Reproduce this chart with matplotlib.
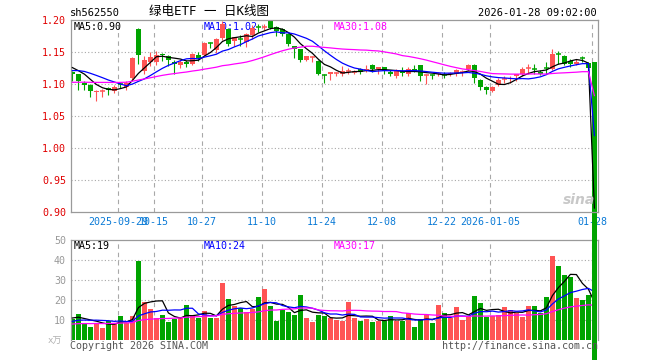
import matplotlib
matplotlib.use("Agg")
import matplotlib.pyplot as plt
import numpy as np
from matplotlib.patches import Rectangle, Ellipse

plt.rcParams['font.family'] = ['DejaVu Sans Mono', 'Noto Sans CJK SC']

# ---------------- data ----------------
tick_index = [8, 14, 22, 32, 42, 52, 62, 70, 87]
tick_labels = ["2025-09-29", "10-15", "10-27", "11-10", "11-24",
               "12-08", "12-22", "2026-01-05", "01-28"]

opens = [1.119, 1.115, 1.102, 1.099, 1.087, 1.089, 1.094, 1.089, 1.100, 1.096,
         1.109, 1.186, 1.120, 1.135, 1.135, 1.147, 1.143, 1.135, 1.130, 1.135,
         1.131, 1.146, 1.146, 1.164, 1.153, 1.172, 1.186, 1.167, 1.171, 1.165,
         1.176, 1.190, 1.189, 1.198, 1.189, 1.186, 1.178, 1.159, 1.154, 1.137,
         1.141, 1.136, 1.115, 1.115, 1.116, 1.116, 1.120, 1.119, 1.124, 1.122,
         1.130, 1.123, 1.126, 1.119, 1.112, 1.120, 1.115, 1.124, 1.129, 1.113,
         1.114, 1.115, 1.115, 1.115, 1.116, 1.118, 1.123, 1.130, 1.107, 1.096,
         1.089, 1.098, 1.107, 1.108, 1.112, 1.115, 1.124, 1.124, 1.119, 1.125,
         1.124, 1.147, 1.144, 1.136, 1.131, 1.141, 1.133, 1.135]
highs = [1.121, 1.116, 1.104, 1.100, 1.091, 1.092, 1.096, 1.099, 1.102, 1.104,
         1.142, 1.187, 1.143, 1.150, 1.152, 1.149, 1.146, 1.137, 1.137, 1.137,
         1.149, 1.150, 1.166, 1.166, 1.172, 1.199, 1.188, 1.174, 1.176, 1.180,
         1.192, 1.193, 1.194, 1.200, 1.190, 1.188, 1.179, 1.160, 1.155, 1.144,
         1.144, 1.137, 1.116, 1.119, 1.119, 1.128, 1.125, 1.122, 1.125, 1.130,
         1.131, 1.126, 1.127, 1.122, 1.123, 1.126, 1.126, 1.130, 1.130, 1.115,
         1.116, 1.119, 1.118, 1.119, 1.123, 1.122, 1.131, 1.131, 1.108, 1.097,
         1.097, 1.109, 1.112, 1.112, 1.114, 1.126, 1.132, 1.131, 1.122, 1.135,
         1.154, 1.152, 1.145, 1.139, 1.139, 1.143, 1.135, 1.135]
lows = [1.105, 1.091, 1.090, 1.080, 1.074, 1.080, 1.083, 1.086, 1.093, 1.091,
        1.107, 1.132, 1.116, 1.128, 1.130, 1.136, 1.128, 1.116, 1.125, 1.127,
        1.129, 1.136, 1.144, 1.157, 1.149, 1.168, 1.160, 1.160, 1.160, 1.158,
        1.170, 1.182, 1.184, 1.186, 1.175, 1.175, 1.160, 1.141, 1.135, 1.136,
        1.134, 1.114, 1.102, 1.107, 1.112, 1.112, 1.115, 1.115, 1.116, 1.118,
        1.118, 1.115, 1.116, 1.112, 1.110, 1.112, 1.112, 1.119, 1.104, 1.100,
        1.108, 1.112, 1.110, 1.112, 1.112, 1.112, 1.121, 1.102, 1.090, 1.085,
        1.087, 1.097, 1.101, 1.101, 1.105, 1.112, 1.115, 1.115, 1.114, 1.116,
        1.122, 1.132, 1.129, 1.127, 1.130, 1.135, 1.114, 0.0]
closes = [1.115, 1.104, 1.099, 1.089, 1.089, 1.090, 1.091, 1.095, 1.099, 1.102,
          1.141, 1.146, 1.138, 1.142, 1.146, 1.145, 1.137, 1.132, 1.135, 1.131,
          1.147, 1.141, 1.164, 1.163, 1.170, 1.194, 1.162, 1.173, 1.170, 1.178,
          1.188, 1.189, 1.190, 1.188, 1.183, 1.178, 1.163, 1.154, 1.137, 1.144,
          1.142, 1.116, 1.114, 1.118, 1.117, 1.121, 1.121, 1.120, 1.119, 1.124,
          1.123, 1.126, 1.120, 1.116, 1.120, 1.117, 1.124, 1.121, 1.113, 1.114,
          1.113, 1.117, 1.114, 1.117, 1.122, 1.119, 1.130, 1.110, 1.096, 1.090,
          1.096, 1.106, 1.108, 1.110, 1.116, 1.123, 1.125, 1.123, 1.115, 1.124,
          1.147, 1.146, 1.132, 1.131, 1.135, 1.140, 1.125, 0.0]
volumes = [10.3, 13, 8.7, 6.5, 8.5, 6.1, 9.7, 8.7, 12, 8.7,
           12, 39.6, 19.2, 15.6, 11.1, 12.5, 9.2, 10.4, 11.7, 17.5,
           12, 11.2, 14.7, 11.2, 11.2, 28.7, 20.7, 17, 15.8, 14,
           15.7, 21.7, 25.7, 17, 9.7, 15, 14.2, 12.5, 22.5, 11.2,
           9.2, 12.5, 12, 11, 10, 9.7, 19, 11, 9.7, 10.5,
           9.2, 9.7, 9.5, 12, 9.7, 9.7, 13.3, 6.7, 10.3, 12.5,
           8.7, 17.5, 13.7, 10.8, 16.5, 10, 11.7, 22, 18.7, 11.7,
           12, 12.5, 16.5, 15, 13.7, 11.5, 17, 17, 13.7, 21.3,
           42, 37, 32.5, 31.3, 20.8, 20, 22.5, 0.5]
# history before the first visible day (needed by the moving averages)
prior_close = [1.100, 1.098, 1.095, 1.092, 1.090, 1.092, 1.095, 1.097,
               1.095, 1.093, 1.090, 1.088, 1.086, 1.088, 1.090, 1.092,
               1.094, 1.096, 1.098, 1.100,
               1.105, 1.112, 1.118, 1.122, 1.125, 1.128, 1.126, 1.130, 1.129]
prior_volume = [7, 8, 7, 6.5, 7.5, 8, 7, 7.5, 6.5, 7,
                8, 7.5, 7, 7, 8, 7.5, 7, 7, 8, 7.5,
                7, 8, 7.5, 8, 7.5,
                11, 12, 10, 11.7]

ma_labels_price = ["MA5:0.90", "MA10:1.02", "MA30:1.08"]
ma_labels_vol = ["MA5:19", "MA10:24", "MA30:17"]

# ---------------- helpers ----------------
W, H = 660, 360
RED = "#ff5454"
GREEN = "#00a400"
GRID = "#a8a8a8"
MA_COLORS = ["black", "#0000ff", "#ff00ff"]


def ma(series, prior, n):
    full = np.array(list(prior) + list(series), float)
    out = np.convolve(full, np.ones(n) / n, mode="valid")
    return out[-len(series):]


def fx(px):
    return px / W


def fy(py):
    return 1 - py / H


n = len(closes)
x = np.arange(n)
xl = (-0.32, 87.6)
grid_x = [i - 0.42 for i in tick_index]

fig = plt.figure(figsize=(W / 100, H / 100), dpi=100)
axv = fig.add_axes([fx(70.5), fy(340), 527.5 / W, 100 / H], zorder=1)
axp = fig.add_axes([fx(70.5), fy(212), 527.5 / W, 192 / H], zorder=2)

for ax in (axp, axv):
    ax.set_xlim(*xl)
    for s in ax.spines.values():
        s.set_color("#9a9a9a")
        s.set_linewidth(0.9)
    ax.tick_params(length=0)
    for gx in grid_x:
        ax.axvline(gx, color=GRID, lw=0.8, ls=(0, (4, 3.5)), zorder=0.5)
axv.spines["bottom"].set_visible(False)

# ---------------- price pane ----------------
axp.set_ylim(0.90, 1.20)
for gy in [0.95, 1.00, 1.05, 1.10, 1.15]:
    axp.axhline(gy, color=GRID, lw=0.8, ls=(0, (1, 2)), zorder=0.5)

for txt, px, col in zip(ma_labels_price, [74, 204, 334], MA_COLORS):
    axp.text(fx(px), fy(26.5), txt, fontsize=7.2, va="center", ha="left", color=col,
             transform=fig.transFigure, zorder=1.5)

for i in range(n):
    o, hh, ll, c = opens[i], highs[i], lows[i], closes[i]
    col = RED if c >= o else GREEN
    last = (i == n - 1)
    axp.vlines(i, ll, hh, color=col, lw=0.8, zorder=2, clip_on=not last)
    body = abs(c - o)
    if body < 0.0012:
        axp.hlines((o + c) / 2, i - 0.42, i + 0.42, color=col, lw=1.1, zorder=2)
    else:
        axp.add_patch(Rectangle((i - 0.42, min(o, c)), 0.84, body, facecolor=col,
                                edgecolor="none", zorder=2, clip_on=not last))

for series, col in zip((ma(closes, prior_close, 5),
                        ma(closes, prior_close, 10),
                        ma(closes, prior_close, 30)), MA_COLORS):
    axp.plot(x, series, color=col, lw=0.9, zorder=3)

price_ticks = [0.90, 0.95, 1.00, 1.05, 1.10, 1.15, 1.20]
axp.set_yticks(price_ticks)
axp.set_yticklabels(["%.2f" % v for v in price_ticks], color="#e00000", fontsize=7.2)
axp.tick_params(axis="y", pad=3.2)
axp.set_xticks(grid_x)
axp.set_xticklabels(tick_labels, color="#0a7ad6", fontsize=7.2)
axp.tick_params(axis="x", pad=3.5)

# ---------------- volume pane ----------------
axv.set_ylim(0, 50)
for gy in [10, 20, 30, 40]:
    axv.axhline(gy, color=GRID, lw=0.8, ls=(0, (1, 2)), zorder=0.5)
vcols = [RED if closes[i] >= opens[i] else GREEN for i in range(n)]
axv.bar(x, volumes, width=0.8, color=vcols, zorder=2, linewidth=0)
for series, col in zip((ma(volumes, prior_volume, 5),
                        ma(volumes, prior_volume, 10),
                        ma(volumes, prior_volume, 30)), MA_COLORS):
    axv.plot(x, series, color=col, lw=0.9, zorder=3)
vol_ticks = [10, 20, 30, 40, 50]
axv.set_yticks(vol_ticks)
axv.set_yticklabels([str(v) for v in vol_ticks], color="#999999", fontsize=7.2)
axv.tick_params(axis="y", pad=3.2)
axv.set_xticks([])

for txt, px, col in zip(ma_labels_vol, [74, 204, 334], MA_COLORS):
    axv.text(fx(px), fy(246), txt, fontsize=7.2, va="center", ha="left", color=col,
             transform=fig.transFigure, zorder=4)

# ---------------- texts ----------------
fig.text(fx(70), fy(13), "sh562550", fontsize=7.5, va="center", ha="left", color="black")
fig.text(fx(209), fy(12), "绿电ETF 一 日K线图", fontsize=9, va="center", ha="center",
         color="black")
fig.text(fx(597), fy(13), "2026-01-28 09:02:00", fontsize=7.5, va="center", ha="right",
         color="black")

fig.text(fx(70), fy(346), "Copyright 2026 SINA.COM", fontsize=7.2, va="center",
         ha="left", color="#555555")
fig.text(fx(442), fy(346), "http://finance.sina.com.cn", fontsize=7.2, va="center",
         ha="left", color="#555555")
fig.text(fx(48), fy(341), "x万", fontsize=6.5, va="center", ha="left", color="#b0b0b0")

# sina watermark
fig.patches.append(Ellipse((fx(579), fy(191)), 13 / W, 10 / H, transform=fig.transFigure,
                           facecolor="none", edgecolor="#f4b0b0", lw=2))
fig.text(fx(579), fy(200), "sina", fontsize=10, fontstyle="italic", fontweight="bold",
         family="DejaVu Sans", ha="center", va="center", color="#c8c8c8")

fig.savefig("out.png", dpi=100)
